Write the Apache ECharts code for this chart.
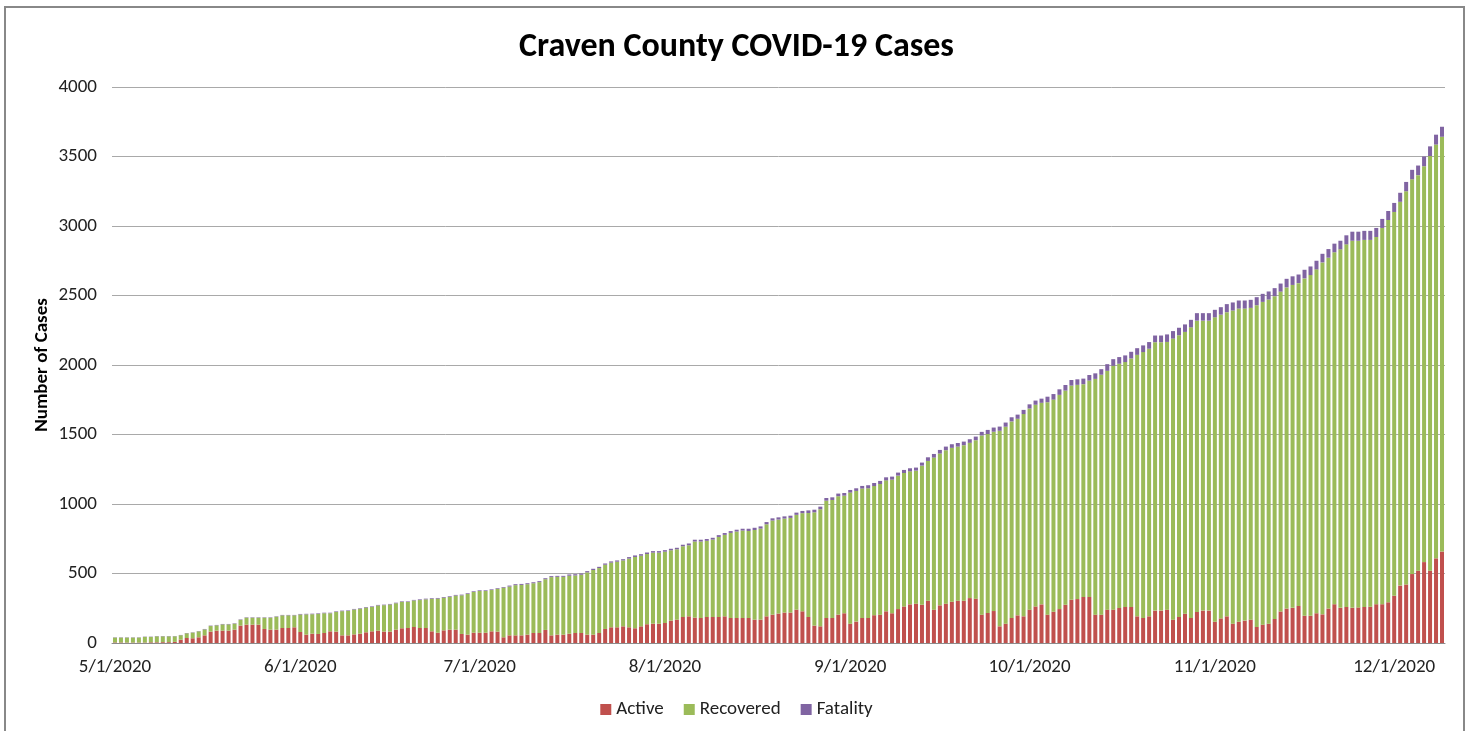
<!DOCTYPE html>
<html>
<head>
<meta charset="utf-8">
<title>Craven County COVID-19 Cases</title>
<script src="https://cdn.jsdelivr.net/npm/echarts/dist/echarts.min.js"></script>
<style>
  html, body { margin: 0; padding: 0; background: #fff; }
  #main { width: 1473px; height: 731px; }
</style>
</head>
<body>
<div id="main"></div>
<script>
// first day of the series, one bar per day
const startDate = '5/1/2020'

// cumulative cases (bar height)
const totalCases = [
  41, 41, 41, 41, 41, 46, 46, 50, 50, 50, 50, 58, 72, 77, 86, 101, 125, 130, 137, 137, 142, 170, 185, 185, 185, 185, 185, 192, 202, 202, 202, 209,
  210, 211, 214, 218, 218, 228, 233, 235, 245, 250, 259, 264, 274, 276, 281, 290, 300, 300, 310, 314, 319, 322, 324, 331, 336, 346, 348, 358, 372, 379, 379, 386,
  394, 403, 413, 423, 425, 430, 437, 445, 466, 481, 483, 483, 493, 495, 500, 517, 534, 548, 572, 587, 594, 603, 618, 630, 639, 651, 661, 661, 668, 678, 685, 707, 716, 743,
  743, 748, 757, 776, 791, 805, 815, 822, 822, 829, 839, 870, 897, 904, 911, 916, 938, 950, 954, 959, 981, 1043, 1048, 1075, 1079, 1101, 1113, 1130, 1135, 1151, 1166, 1192, 1197,
  1226, 1245, 1257, 1262, 1298, 1336, 1360, 1389, 1413, 1430, 1439, 1449, 1466, 1485, 1519, 1533, 1550, 1557, 1586, 1624, 1643, 1677, 1717, 1744, 1758, 1772, 1791, 1825, 1856, 1892, 1897, 1902, 1928, 1940,
  1970, 2006, 2042, 2057, 2069, 2095, 2121, 2141, 2165, 2212, 2212, 2220, 2244, 2268, 2292, 2325, 2373, 2373, 2373, 2397, 2416, 2438, 2450, 2464, 2464, 2469, 2488, 2512, 2529, 2553,
  2586, 2620, 2638, 2651, 2685, 2709, 2750, 2800, 2834, 2873, 2894, 2933, 2959, 2959, 2965, 2965, 2986, 3051, 3108, 3166, 3239, 3317, 3404, 3435, 3500, 3573, 3657, 3714
]

const active = [
  4, 4, 3, 3, 3, 3, 5, 5, 6, 6, 8, 24, 36, 34, 41, 55, 82, 89, 89, 89, 96, 125, 132, 132, 132, 101, 96, 96, 108, 108, 113, 79,
  60, 67, 65, 72, 84, 82, 55, 55, 62, 67, 77, 84, 89, 82, 82, 96, 106, 108, 115, 108, 108, 84, 74, 91, 96, 96, 65, 60, 74, 74, 74, 84,
  82, 41, 55, 55, 55, 60, 72, 72, 94, 55, 60, 60, 67, 72, 72, 60, 60, 72, 101, 113, 113, 120, 113, 106, 120, 135, 139, 139, 144, 161, 168, 187, 192, 183,
  180, 187, 187, 187, 192, 180, 180, 180, 180, 168, 168, 192, 204, 212, 219, 219, 240, 228, 187, 125, 120, 180, 180, 204, 214, 139, 154, 180, 180, 200, 204, 228, 214,
  244, 263, 278, 283, 275, 304, 240, 271, 283, 297, 304, 304, 323, 319, 204, 216, 230, 120, 139, 180, 199, 192, 240, 263, 278, 204, 225, 244, 275, 311, 316, 331, 331, 204,
  204, 240, 240, 252, 259, 259, 192, 180, 192, 233, 233, 240, 168, 187, 211, 180, 223, 233, 233, 153, 177, 192, 139, 153, 161, 168, 115, 132, 139, 173,
  227, 248, 253, 266, 196, 196, 214, 206, 248, 279, 253, 259, 253, 256, 259, 261, 279, 279, 293, 340, 413, 421, 496, 520, 582, 520, 609, 658
]

const fatality = [
  2, 2, 2, 2, 2, 2, 2, 2, 2, 2, 2, 2, 2, 2, 2,
  3, 3, 3, 3, 3, 3, 3, 3, 3, 3, 3, 3, 3, 3, 3, 3,
  4, 4, 4, 4, 4, 4, 4, 4, 4, 4, 4, 4, 4, 4, 4, 4, 4, 4, 4, 4,
  5, 5, 5, 5, 5, 5, 5, 5, 5, 5, 5, 5, 5, 5, 5,
  7, 7, 7, 7, 7, 7, 7, 7, 7, 7,
  9, 9, 9, 9, 9, 9, 9, 9, 9, 9,
  11, 11, 11, 11, 11, 11, 11, 11, 11, 11,
  13, 13, 13, 13, 13, 13, 13, 13, 13, 13,
  16, 16, 16, 16, 16, 16, 16, 16, 16, 16,
  19, 19, 19, 19, 19, 19, 19, 19, 19, 19,
  22, 22, 22, 22, 22, 22, 22, 22, 22, 22,
  26, 26, 26, 26, 26, 26, 26, 26, 26, 26,
  30, 30, 30, 30, 30, 30, 30, 30, 30, 30,
  40, 40, 40, 40, 40, 40, 40, 40, 40, 40,
  48, 48, 48, 48, 48, 48, 48, 48, 48, 48,
  54, 54, 54, 54, 54, 54, 54, 54, 54, 54,
  58, 58, 58, 58, 58, 58, 58, 58, 58, 58,
  62, 62, 62, 62, 62, 62, 62, 62, 62, 62,
  65, 65, 65, 65, 65, 65, 65, 65, 65, 65,
  67, 68, 69, 70, 70, 71, 72
]

// recovered is what is left of each bar
const recovered = totalCases.map((t, i) => t - active[i] - fatality[i])

// one category per day, labelled M/D/YYYY
const dates = []
const d0 = new Date(startDate)
for (let i = 0; i < totalCases.length; i++) {
  const d = new Date(d0.getFullYear(), d0.getMonth(), d0.getDate() + i)
  dates.push((d.getMonth() + 1) + '/' + d.getDate() + '/' + d.getFullYear())
}

const yTicks = [0, 500, 1000, 1500, 2000, 2500, 3000, 3500, 4000]

const font = 'Carlito, Lato, "Open Sans", sans-serif'

var chartDom = document.getElementById('main')
var myChart = echarts.init(chartDom)
var option

option = {
  animation: false,
  backgroundColor: '#fff',
  title: {
    text: 'Craven County COVID-19 Cases',
    left: 'center',
    top: 25,
    textStyle: { fontFamily: font, fontSize: 34, fontWeight: 'bold', color: '#000' }
  },
  legend: {
    data: ['Active', 'Recovered', 'Fatality'],
    left: 'center',
    top: 695,
    icon: 'rect',
    itemWidth: 11,
    itemHeight: 11,
    itemGap: 20,
    textStyle: { fontFamily: font, fontSize: 19, color: '#222' }
  },
  grid: { left: 112, right: 28, top: 87, bottom: 88 },
  xAxis: {
    type: 'category',
    data: dates,
    axisLine: { lineStyle: { color: '#8c8c8c', width: 1 } },
    axisTick: { show: false },
    axisLabel: {
      interval: (index, value) => value.split('/')[1] === '1',
      hideOverlap: false,
      margin: 15,
      fontFamily: font,
      fontSize: 19,
      color: '#222'
    }
  },
  yAxis: {
    type: 'value',
    min: yTicks[0],
    max: yTicks[yTicks.length - 1],
    interval: yTicks[1] - yTicks[0],
    name: 'Number of Cases',
    nameLocation: 'middle',
    nameRotate: 90,
    nameGap: 60,
    nameMoveOverlap: false,
    nameTextStyle: { fontFamily: font, fontSize: 19, fontWeight: 'bold', color: '#000' },
    axisLine: { show: false },
    axisTick: { show: false },
    axisLabel: {
      margin: 15, fontFamily: font, fontSize: 19, color: '#222',
      formatter: (v) => String(v)
    },
    splitLine: { lineStyle: { color: '#a9a9a9', width: 1 } }
  },
  graphic: [{
    type: 'rect',
    shape: { x: 5, y: 7, width: 1459, height: 740 },
    style: { fill: 'none', stroke: '#888', lineWidth: 2 },
    silent: true
  }],
  series: [
    {
      name: 'Active', type: 'bar', stack: 'cases', data: active,
      barCategoryGap: '33%', itemStyle: { color: '#C0504D' }
    },
    {
      name: 'Recovered', type: 'bar', stack: 'cases', data: recovered,
      barCategoryGap: '33%', itemStyle: { color: '#9BBB59' }
    },
    {
      name: 'Fatality', type: 'bar', stack: 'cases', data: fatality,
      barCategoryGap: '33%', itemStyle: { color: '#8064A2' }
    }
  ]
}

myChart.setOption(option)
</script>
</body>
</html>
